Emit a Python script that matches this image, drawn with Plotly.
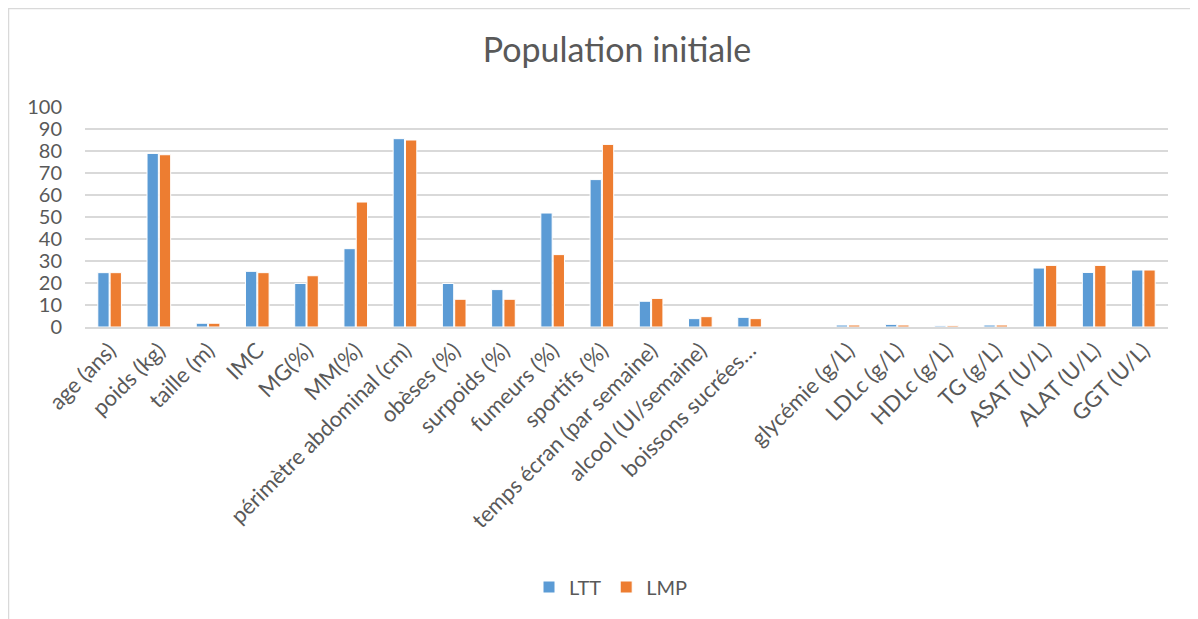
import plotly.graph_objects as go

categories = [
    "age (ans)", "poids (kg)", "taille (m)", "IMC", "MG(%)", "MM(%)",
    "périmètre abdominal (cm)", "obèses (%)", "surpoids (%)", "fumeurs (%)",
    "sportifs (%)", "temps écran (par semaine)", "alcool (UI/semaine)",
    "boissons sucrées…", " ", "glycémie (g/L)", "LDLc (g/L)", "HDLc (g/L)",
    "TG (g/L)", "ASAT (U/L)", "ALAT (U/L)", "GGT (U/L)",
]
ltt = [24.7, 78.9, 1.7, 25.3, 19.8, 35.6, 85.6, 19.8, 17.0, 51.8, 67.0,
       11.7, 3.8, 4.4, None, 0.9, 1.2, 0.5, 0.9, 26.8, 24.8, 25.9]
lmp = [24.7, 78.3, 1.7, 24.7, 23.3, 56.8, 85.0, 12.6, 12.6, 32.9, 83.0,
       13.0, 4.7, 3.8, None, 0.9, 0.9, 0.6, 0.9, 28.0, 28.0, 25.9]
y_ticks = [0, 10, 20, 30, 40, 50, 60, 70, 80, 90, 100]

FONT = "Lato, 'Open Sans', sans-serif"
TXT = "#595959"

fig = go.Figure()
fig.add_trace(go.Bar(name="LTT", x=categories, y=ltt,
                     marker=dict(color="#5B9BD5", line=dict(color="white", width=1))))
fig.add_trace(go.Bar(name="LMP", x=categories, y=lmp,
                     marker=dict(color="#ED7D31", line=dict(color="white", width=1))))

# page is offset by the 8px body margin
OFF = 8
W, H = 1190, 611
L, T = 85 - OFF, 107 - OFF
R = W - (1168 - OFF)
B = H - (327 - OFF)
pw, ph = W - L - R, H - T - B

def px(x):
    return (x - OFF - L) / pw

def py(y):
    return (H - B - (y - OFF)) / ph

fig.update_layout(
    width=W, height=H,
    margin=dict(l=L, r=R, t=T, b=B, autoexpand=False),
    paper_bgcolor="white", plot_bgcolor="white",
    barmode="group", bargap=0.5, bargroupgap=0.08,
    title=dict(text="Population initiale", x=(617 - OFF) / W, xanchor="center",
               y=1 - (50 - OFF) / H, yanchor="middle",
               font=dict(family=FONT, size=34, color=TXT)),
    font=dict(family=FONT, color=TXT),
    xaxis=dict(type="category", categoryorder="array", categoryarray=categories,
               tickangle=-45, tickfont=dict(size=22, color=TXT),
               showgrid=False, showline=True, linecolor="#D9D9D9", linewidth=2,
               ticks="", ticklen=0),
    yaxis=dict(range=[0, 100], tickvals=y_ticks, ticktext=[str(v) for v in y_ticks],
               tickfont=dict(size=20, color=TXT), showgrid=True,
               gridcolor="#D9D9D9", gridwidth=1.5, zeroline=False,
               showline=False, ticks="", ticklabelstandoff=22),
    legend=dict(orientation="h", x=px(611), xanchor="center",
                y=py(587), yanchor="middle",
                font=dict(size=20, color=TXT), itemwidth=30,
                traceorder="normal"),
    shapes=[dict(type="rect", xref="paper", yref="paper",
                 x0=px(8.5), x1=px(1197),
                 y0=py(800), y1=py(8.5),
                 line=dict(color="#D9D9D9", width=1.5), fillcolor="rgba(0,0,0,0)",
                 layer="below")],
)

fig.write_html("out.html")
